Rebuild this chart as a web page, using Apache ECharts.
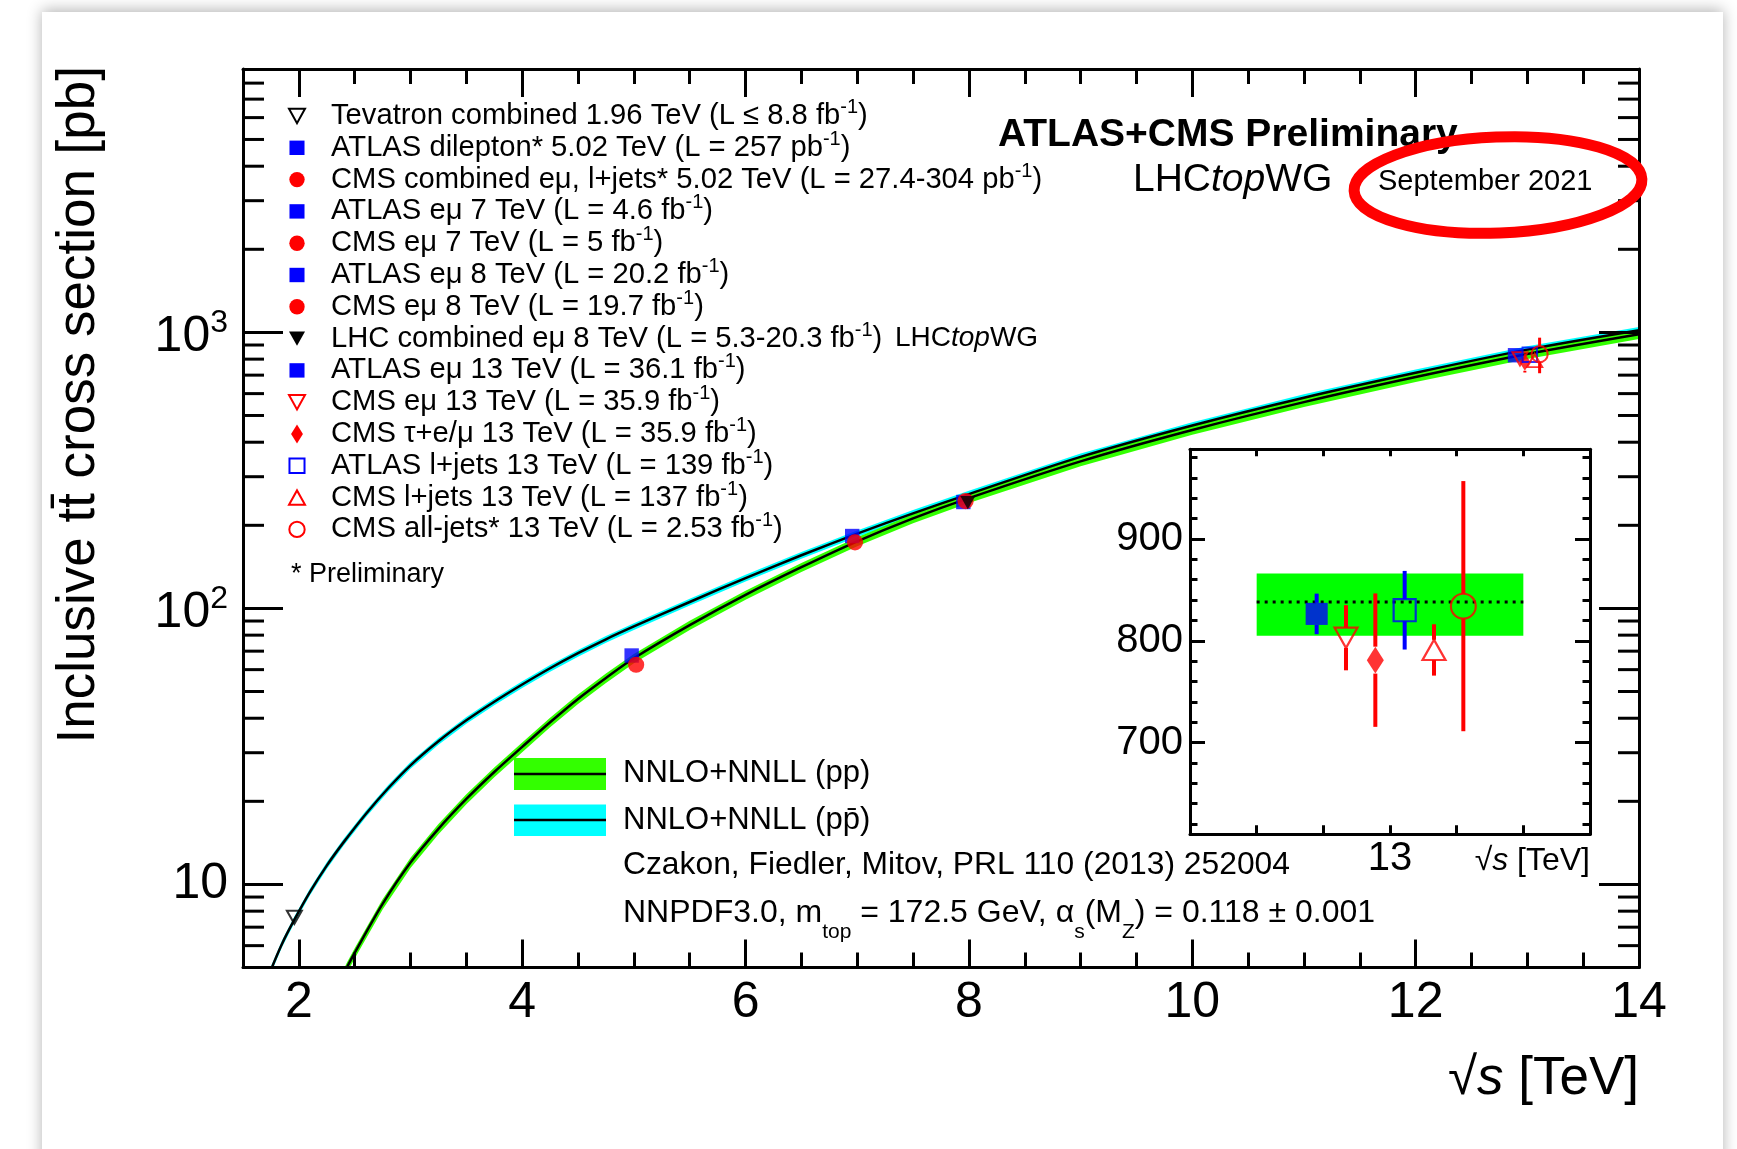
<!DOCTYPE html>
<html>
<head>
<meta charset="utf-8">
<title>Inclusive ttbar cross section vs sqrt(s)</title>
<script src="https://cdn.jsdelivr.net/npm/echarts@6.0.0/dist/echarts.min.js"></script>
<style>
  html, body { margin: 0; padding: 0; background: #ffffff; }
  #chart { width: 1737px; height: 1149px; }
</style>
</head>
<body>
<div id="chart"></div>
<script>
const FONT = '"Liberation Sans", Arial, Helvetica, sans-serif';

// NNLO+NNLL prediction, pp (green band), sqrt(s) in TeV, sigma in pb, uncertainties in %
const ppSqrtS   = [2.38, 2.43, 2.5, 2.75, 3, 3.25, 3.5, 3.75, 4, 4.25, 4.5, 4.75, 5, 5.5, 6, 6.5, 7, 7.5, 8, 9, 10, 11, 12, 13, 14];
const ppXsec    = [4.55, 5.0, 5.65, 8.5, 12.0, 15.9, 20.4, 25.55, 31.5, 38.7, 47.0, 56.0, 66.0, 87, 112, 141, 175, 212, 251, 341, 443, 559, 689, 835, 985];
const ppUncUp   = [4.0, 4.0, 4.0, 4.0, 4.0, 4.0, 4.0, 3.9, 3.8, 3.8, 3.8, 3.7, 3.6, 3.6, 3.5, 3.5, 3.5, 3.4, 3.4, 3.4, 3.4, 3.4, 3.4, 3.4, 3.4];
const ppUncDown = [4.6, 4.6, 4.6, 4.5, 4.5, 4.4, 4.4, 4.3, 4.3, 4.2, 4.2, 4.1, 4.1, 4.0, 4.0, 4.0, 4.0, 4.0, 4.0, 4.0, 4.0, 4.0, 4.0, 4.0, 4.0];

// NNLO+NNLL prediction, p-pbar (cyan band)
const ppbarSqrtS = [1.7, 1.75, 1.85, 1.96, 2.1, 2.25, 2.4, 2.6, 2.8, 3, 3.25, 3.5, 3.75, 4, 4.25, 4.5, 4.75, 5, 5.5, 6, 6.5, 7, 7.5, 8, 9, 10, 11, 12, 13, 14];
const ppbarXsec  = [4.3, 4.9, 6.1, 7.45, 9.4, 11.7, 14.2, 18.0, 22.3, 27.0, 33.0, 39.3, 45.9, 53.0, 60.7, 68.8, 77.3, 86.0, 105.5, 128.8, 155.8, 186.5, 221, 259.5, 354, 460, 580, 714, 866, 1018];
const ppbarUnc   = [2.8, 2.8, 2.8, 2.8, 2.8, 2.8, 2.8, 2.8, 2.8, 2.8, 2.8, 2.8, 2.8, 2.8, 2.8, 2.8, 2.8, 2.8, 2.8, 2.8, 2.8, 2.8, 2.8, 2.8, 2.8, 2.8, 2.8, 2.8, 2.8, 2.8];

// measurements
const measLabels = [
  'Tevatron combined 1.96 TeV (L ≤ 8.8 fb{s|-1})',
  'ATLAS dilepton* 5.02 TeV (L = 257 pb{s|-1})',
  'CMS combined eμ, l+jets* 5.02 TeV (L = 27.4-304 pb{s|-1})',
  'ATLAS eμ 7 TeV (L = 4.6 fb{s|-1})',
  'CMS eμ 7 TeV (L = 5 fb{s|-1})',
  'ATLAS eμ 8 TeV (L = 20.2 fb{s|-1})',
  'CMS eμ 8 TeV (L = 19.7 fb{s|-1})',
  'LHC combined eμ 8 TeV (L = 5.3-20.3 fb{s|-1})',
  'ATLAS eμ 13 TeV (L = 36.1 fb{s|-1})',
  'CMS eμ 13 TeV (L = 35.9 fb{s|-1})',
  'CMS τ+e/μ 13 TeV (L = 35.9 fb{s|-1})',
  'ATLAS l+jets 13 TeV (L = 139 fb{s|-1})',
  'CMS l+jets 13 TeV (L = 137 fb{s|-1})',
  'CMS all-jets* 13 TeV (L = 2.53 fb{s|-1})'
];
const measSqrtS = [1.96, 4.98, 5.02, 6.955, 6.98, 7.95, 7.97, 7.99, 12.89, 12.934, 12.978, 13.022, 13.066, 13.11];
const measXsec  = [7.60, 67.5, 62.5, 182.9, 173.6, 242.9, 244.9, 241.5, 826.4, 803, 781, 830, 791, 834];
const measErr   = [0.41, 2.1, 4.1, 7.1, 6.4, 7.6, 9.0, 8.5, 19.9, 32, 65.5, 38.6, 25.2, 122.8];

// inset (13 TeV zoom)
const insetIdx = [8, 9, 10, 11, 12, 13];
const insetBandSqrtS = [12.8, 13.2];
const insetBandXsec = [805, 866];
const insetCentral = 838;

// tick values
const xMajorTicks = [2, 4, 6, 8, 10, 12, 14];
const logMajorTicks = [10, 100, 1000];
const logMinorTicks = [6, 7, 8, 9, 20, 30, 40, 50, 60, 70, 80, 90, 200, 300, 400, 500, 600, 700, 800, 900,
  2000, 3000, 4000, 5000, 6000, 7000, 8000];
const insetXTicks = [12.8, 12.9, 13, 13.1, 13.2];
const insetYMajor = [700, 800, 900];
const insetYMinor = [620, 640, 660, 680, 720, 740, 760, 780, 820, 840, 860, 880, 920, 940, 960, 980];

// marker styles, one per measurement
const BLUE = '#0000ff', RED = '#ff0000', BLACK = '#000000';
const GREEN = '#33ff00', CYAN = '#00ffff';
const measStyle = [
  { shape: 'triDown', color: BLACK, open: true },
  { shape: 'square', color: BLUE },
  { shape: 'circle', color: RED },
  { shape: 'square', color: BLUE },
  { shape: 'circle', color: RED },
  { shape: 'square', color: BLUE },
  { shape: 'circle', color: RED },
  { shape: 'triDown', color: BLACK },
  { shape: 'square', color: BLUE },
  { shape: 'triDown', color: RED, open: true },
  { shape: 'diamond', color: RED },
  { shape: 'square', color: BLUE, open: true },
  { shape: 'triUp', color: RED, open: true },
  { shape: 'circle', color: RED, open: true }
];

const SYMBOL = {
  square: 'rect', circle: 'circle', triUp: 'triangle', diamond: 'diamond',
  triDown: 'path://M0,0L20,0L10,17.3Z'
};
function symSize(shape, s) {
  if (shape === 'diamond') return [s * 0.74, s * 1.17];
  if (shape === 'triUp' || shape === 'triDown') return [s, s * 0.88];
  if (shape === 'circle') return [s * 1.08, s * 1.08];
  return [s * 0.96, s * 0.96];
}

const XMIN = 1.5, XMAX = 14, YMIN = 5, YMAX = 9000;

function errorBars(s, lineWidth) {
  return function (params, api) {
    const i = api.value(4);
    const st = measStyle[i];
    const gap = symSize(st.shape, s)[1] / 2;
    const c = api.coord([api.value(0), api.value(1)]);
    const lo = api.coord([api.value(0), api.value(2)]);
    const hi = api.coord([api.value(0), api.value(3)]);
    const children = [];
    const ls = { stroke: st.color, lineWidth: lineWidth };
    if (hi[1] < c[1] - gap) children.push({ type: 'line', shape: { x1: c[0], y1: hi[1], x2: c[0], y2: c[1] - gap }, style: ls });
    if (lo[1] > c[1] + gap) children.push({ type: 'line', shape: { x1: c[0], y1: c[1] + gap, x2: c[0], y2: lo[1] }, style: ls });
    return { type: 'group', children: children };
  };
}

function markerSeries(i, s, xi, yi, bw) {
  const st = measStyle[i];
  return {
    type: 'scatter', name: measLabels[i].replace(/\{s\|(.*?)\}/g, '$1'),
    xAxisIndex: xi, yAxisIndex: yi, silent: true, z: 6,
    data: [[measSqrtS[i], measXsec[i]]],
    symbol: SYMBOL[st.shape], symbolSize: symSize(st.shape, s),
    itemStyle: st.open ? { color: 'transparent', borderColor: st.color, borderWidth: bw } : { color: st.color, borderWidth: 0 }
  };
}

function legendMarker(st, cx, cy, s) {
  const style = st.open ? { fill: 'none', stroke: st.color, lineWidth: 2 } : { fill: st.color };
  const h = s * 0.9;
  if (st.shape === 'square') return { type: 'rect', z: 50, shape: { x: cx - s * 0.47, y: cy - s * 0.45, width: s * 0.94, height: s * 0.9 }, style: style };
  if (st.shape === 'circle') return { type: 'circle', z: 50, shape: { cx: cx, cy: cy, r: s * 0.48 }, style: style };
  if (st.shape === 'triDown') return { type: 'polygon', z: 50, shape: { points: [[cx - s / 2, cy - h / 2], [cx + s / 2, cy - h / 2], [cx, cy + h / 2]] }, style: style };
  if (st.shape === 'triUp') return { type: 'polygon', z: 50, shape: { points: [[cx - s / 2, cy + h / 2], [cx + s / 2, cy + h / 2], [cx, cy - h / 2]] }, style: style };
  return { type: 'polygon', z: 50, shape: { points: [[cx, cy - s * 0.6], [cx + s * 0.37, cy], [cx, cy + s * 0.6], [cx - s * 0.37, cy]] }, style: style };
}

function text(x, y, str, size, opt) {
  opt = opt || {};
  const style = {
    text: str, fontSize: size, fontFamily: FONT, fontWeight: opt.weight || 'normal', fill: '#000',
    align: opt.align || 'left', verticalAlign: 'middle',
    textAlign: opt.align || 'left', textVerticalAlign: 'middle'
  };
  if (opt.lineHeight) style.lineHeight = opt.lineHeight;
  if (opt.rich) style.rich = opt.rich;
  return { type: 'text', x: x, y: y, z: 50, silent: true, rotation: opt.rotation || 0, style: style };
}

const supRich = {
  s: { fontSize: 20, fontFamily: FONT, fill: '#000', lineHeight: 14, verticalAlign: 'top' }
};
const wgRich = function (size) {
  return {
    n: { fontSize: size, fontFamily: FONT, fill: '#000' },
    i: { fontSize: size, fontFamily: FONT, fontStyle: 'italic', fill: '#000' }
  };
};

// ---- graphic: legend, annotations, titles ----
const graphic = [];
graphic.push({
  type: 'rect', z: -100, silent: true,
  shape: { x: 42, y: 12, width: 1681, height: 1200 },
  style: { fill: '#ffffff', shadowBlur: 14, shadowColor: 'rgba(0,0,0,0.30)', shadowOffsetY: -2 }
});
measLabels.forEach(function (lab, i) {
  const y = 116 + 31.8 * i;
  graphic.push(legendMarker(measStyle[i], 297, y, 16));
  graphic.push(text(331, y, lab, 29.2, { lineHeight: 37, rich: supRich }));
});
graphic.push(text(895, 116 + 31.8 * 7, '{n|LHC}{i|top}{n|WG}', 28, { rich: wgRich(28) }));
graphic.push(text(291, 575, '* Preliminary', 27));

graphic.push(text(998, 135, 'ATLAS+CMS Preliminary', 39, { weight: 'bold' }));
graphic.push(text(1133, 180, '{n|LHC}{i|top}{n|WG}', 39, { rich: wgRich(39) }));
graphic.push(text(1378, 182, 'September 2021', 29));
graphic.push({
  type: 'ellipse', z: 100, silent: true, x: 1498, y: 185, rotation: 0.04,
  shape: { cx: 0, cy: 0, rx: 144, ry: 48 },
  style: { fill: 'none', stroke: RED, lineWidth: 11 }
});

// theory legend
graphic.push({ type: 'rect', z: 50, silent: true, shape: { x: 514, y: 758, width: 92, height: 32 }, style: { fill: GREEN } });
graphic.push({ type: 'line', z: 51, silent: true, shape: { x1: 514, y1: 774, x2: 606, y2: 774 }, style: { stroke: '#000', lineWidth: 2.5 } });
graphic.push({ type: 'rect', z: 50, silent: true, shape: { x: 514, y: 804.5, width: 92, height: 31.5 }, style: { fill: CYAN } });
graphic.push({ type: 'line', z: 51, silent: true, shape: { x1: 514, y1: 820, x2: 606, y2: 820 }, style: { stroke: '#000', lineWidth: 2.5 } });
graphic.push(text(623, 773, 'NNLO+NNLL (pp)', 31));
graphic.push(text(623, 820, 'NNLO+NNLL (pp\u0304)', 31));
graphic.push(text(623, 865, 'Czakon, Fiedler, Mitov, PRL 110 (2013) 252004', 31.8));
graphic.push(text(623, 913, 'NNPDF3.0, m{b|top} = 172.5 GeV, α{b|s}(M{b|Z}) = 0.118 ± 0.001', 32, {
  lineHeight: 60,
  rich: { b: { fontSize: 21, fontFamily: FONT, fill: '#000', lineHeight: 22, verticalAlign: 'bottom' } }
}));

// axis titles
graphic.push(text(79, 66, 'Inclusive tt\u0304 cross section [pb]', 53, { align: 'right', rotation: Math.PI / 2 }));
graphic.push(text(1639, 1079, '√{i|s} [TeV]', 53, { align: 'right', rich: { i: { fontSize: 53, fontFamily: FONT, fontStyle: 'italic', fill: '#000' } } }));
graphic.push(text(1590, 861, '√{i|s} [TeV]', 32, { align: 'right', rich: { i: { fontSize: 32, fontFamily: FONT, fontStyle: 'italic', fill: '#000' } } }));

// ---- axes ----
const AX = { color: '#000', width: 3 };
function hiddenAxis(gi) {
  return { gridIndex: gi, type: 'value', show: false, min: 0, max: 1 };
}
function fmtPow(v) {
  const e = Math.round(Math.log10(v));
  if (Math.abs(Math.log10(v) - e) > 1e-6) return '';
  return e === 1 ? '10' : '{m|10}{s|' + e + '}';
}

const xAxis = [
  { gridIndex: 0, type: 'value', position: 'bottom', min: XMIN, max: XMAX, z: 10,
    axisLine: { show: true, onZero: false, lineStyle: AX }, splitLine: { show: false },
    axisTick: { show: true, inside: true, length: 28, customValues: xMajorTicks, lineStyle: AX },
    axisLabel: { show: true, customValues: xMajorTicks, fontSize: 50, fontFamily: FONT, color: '#000', margin: 11 } },
  { gridIndex: 0, type: 'value', position: 'top', min: XMIN, max: XMAX, z: 10,
    axisLine: { show: true, onZero: false, lineStyle: AX }, splitLine: { show: false },
    axisTick: { show: true, inside: true, length: 28, customValues: xMajorTicks, lineStyle: AX },
    axisLabel: { show: false } },
  { gridIndex: 1, type: 'value', position: 'bottom', min: XMIN, max: XMAX, interval: 0.5, z: 10,
    axisLine: { show: false }, splitLine: { show: false }, axisLabel: { show: false },
    axisTick: { show: true, inside: true, length: 15, lineStyle: AX } },
  { gridIndex: 1, type: 'value', position: 'top', min: XMIN, max: XMAX, interval: 0.5, z: 10,
    axisLine: { show: false }, splitLine: { show: false }, axisLabel: { show: false },
    axisTick: { show: true, inside: true, length: 15, lineStyle: AX } },
  { gridIndex: 2, type: 'value', position: 'bottom', min: 12.7, max: 13.3, z: 10,
    axisLine: { show: true, onZero: false, lineStyle: AX }, splitLine: { show: false },
    axisTick: { show: true, inside: true, length: 9, customValues: insetXTicks, lineStyle: AX },
    axisLabel: { show: true, customValues: [13], fontSize: 40, fontFamily: FONT, color: '#000', margin: 5 } },
  { gridIndex: 2, type: 'value', position: 'top', min: 12.7, max: 13.3, z: 10,
    axisLine: { show: true, onZero: false, lineStyle: AX }, splitLine: { show: false },
    axisTick: { show: true, inside: true, length: 7, customValues: insetXTicks, lineStyle: AX },
    axisLabel: { show: false } },
  hiddenAxis(3)
];

const yAxis = [
  { gridIndex: 0, type: 'log', position: 'left', min: YMIN, max: YMAX, z: 10,
    axisLine: { show: true, onZero: false, lineStyle: AX }, splitLine: { show: false },
    axisTick: { show: false }, minorTick: { show: false },
    axisLabel: { show: true, formatter: fmtPow, fontSize: 50, fontFamily: FONT, color: '#000', margin: 15, lineHeight: 50,
      rich: {
        m: { fontSize: 50, fontFamily: FONT, color: '#000', lineHeight: 50, padding: [10, 0, 0, 0] },
        s: { fontSize: 32, fontFamily: FONT, color: '#000', lineHeight: 40, verticalAlign: 'top' }
      } } },
  { gridIndex: 0, type: 'log', position: 'right', min: YMIN, max: YMAX, z: 10,
    axisLine: { show: true, onZero: false, lineStyle: AX }, splitLine: { show: false },
    axisTick: { show: false }, axisLabel: { show: false } },
  hiddenAxis(1),
  { gridIndex: 2, type: 'value', position: 'left', min: 610, max: 988, z: 10,
    axisLine: { show: true, onZero: false, lineStyle: AX }, splitLine: { show: false },
    axisTick: { show: true, inside: true, length: 15, customValues: insetYMajor, lineStyle: AX },
    axisLabel: { show: true, customValues: insetYMajor, fontSize: 40, fontFamily: FONT, color: '#000', margin: 7 } },
  { gridIndex: 2, type: 'value', position: 'right', min: 610, max: 988, z: 10,
    axisLine: { show: true, onZero: false, lineStyle: AX }, splitLine: { show: false },
    axisTick: { show: true, inside: true, length: 15, customValues: insetYMajor, lineStyle: AX },
    axisLabel: { show: false } },
  { gridIndex: 3, type: 'value', position: 'left', min: 610, max: 988, z: 10,
    axisLine: { show: false }, splitLine: { show: false }, axisLabel: { show: false },
    axisTick: { show: true, inside: true, length: 7.5, customValues: insetYMinor, lineStyle: AX } },
  { gridIndex: 3, type: 'value', position: 'right', min: 610, max: 988, z: 10,
    axisLine: { show: false }, splitLine: { show: false }, axisLabel: { show: false },
    axisTick: { show: true, inside: true, length: 7.5, customValues: insetYMinor, lineStyle: AX } }
];

const mainRect = { left: 243, top: 69, width: 1396, height: 898.5 };
const insetRect = { left: 1190, top: 449.3, width: 400, height: 385 };
const grid = [
  Object.assign({ show: false, containLabel: false, outerBoundsMode: 'none' }, mainRect),
  Object.assign({ show: false, containLabel: false, outerBoundsMode: 'none' }, mainRect),
  Object.assign({ show: true, backgroundColor: '#ffffff', borderWidth: 0, containLabel: false, outerBoundsMode: 'none' }, insetRect),
  Object.assign({ show: false, containLabel: false, outerBoundsMode: 'none' }, insetRect)
];

// ---- series ----
// clip a polygon (pixel coords) to the plotting rectangle
function clipPolygon(pts, x0, y0, x1, y1) {
  function pass(poly, inside, cross) {
    const out = [];
    for (let k = 0; k < poly.length; k++) {
      const cur = poly[k], prev = poly[(k + poly.length - 1) % poly.length];
      const ci = inside(cur), pi = inside(prev);
      if (ci) { if (!pi) out.push(cross(prev, cur)); out.push(cur); }
      else if (pi) out.push(cross(prev, cur));
    }
    return out;
  }
  const atX = function (x) { return function (a, b) { return [x, a[1] + (b[1] - a[1]) * (x - a[0]) / (b[0] - a[0])]; }; };
  const atY = function (y) { return function (a, b) { return [a[0] + (b[0] - a[0]) * (y - a[1]) / (b[1] - a[1]), y]; }; };
  let p = pts;
  p = pass(p, function (q) { return q[0] >= x0; }, atX(x0));
  p = pass(p, function (q) { return q[0] <= x1; }, atX(x1));
  p = pass(p, function (q) { return q[1] >= y0; }, atY(y0));
  p = pass(p, function (q) { return q[1] <= y1; }, atY(y1));
  return p;
}

function bandSeries(name, xs, ys, up, down, color, z) {
  return {
    type: 'custom', name: name, xAxisIndex: 0, yAxisIndex: 0, silent: true, z: z,
    encode: { x: 0, y: 1 },
    data: xs.map(function (x, i) { return [x, ys[i]]; }),
    renderItem: function (params, api) {
      if (params.dataIndex !== 0) return null;
      const upper = xs.map(function (x, i) { return api.coord([x, ys[i] * (1 + up[i] / 100)]); });
      const lower = xs.map(function (x, i) { return api.coord([x, ys[i] * (1 - down[i] / 100)]); });
      const cs = params.coordSys;
      const pts = clipPolygon(upper.concat(lower.reverse()), cs.x, cs.y, cs.x + cs.width, cs.y + cs.height);
      return { type: 'polygon', shape: { points: pts }, style: { fill: color } };
    }
  };
}
function centralLine(name, xs, ys) {
  return { type: 'line', name: name, xAxisIndex: 0, yAxisIndex: 0, symbol: 'none', smooth: 0.3, silent: true, z: 4,
    data: xs.map(function (x, i) { return [x, ys[i]]; }), lineStyle: { color: '#000', width: 2.5 } };
}

const series = [
  bandSeries('NNLO+NNLL (ppbar) band', ppbarSqrtS, ppbarXsec, ppbarUnc, ppbarUnc, CYAN, 2),
  bandSeries('NNLO+NNLL (pp) band', ppSqrtS, ppXsec, ppUncUp, ppUncDown, GREEN, 3),
  centralLine('NNLO+NNLL (ppbar)', ppbarSqrtS, ppbarXsec),
  centralLine('NNLO+NNLL (pp)', ppSqrtS, ppXsec)
];

// log-axis ticks (left and right edges of the main frame)
series.push({
  type: 'custom', name: 'log ticks', xAxisIndex: 0, yAxisIndex: 0, silent: true, z: 10,
  encode: { x: 0, y: 1 },
  data: logMajorTicks.map(function (v) { return [XMIN, v, 1]; }).concat(logMinorTicks.map(function (v) { return [XMIN, v, 0]; })),
  renderItem: function (params, api) {
    const v = api.value(1);
    const len = api.value(2) === 1 ? 40 : 21;
    const l = api.coord([XMIN, v]), r = api.coord([XMAX, v]);
    const ls = { stroke: '#000', lineWidth: 3 };
    return { type: 'group', children: [
      { type: 'line', shape: { x1: l[0], y1: l[1], x2: l[0] + len, y2: l[1] }, style: ls },
      { type: 'line', shape: { x1: r[0] - len, y1: r[1], x2: r[0], y2: r[1] }, style: ls }
    ] };
  }
});

// main plot: error bars + markers
series.push({
  type: 'custom', name: 'errors', xAxisIndex: 0, yAxisIndex: 0, silent: true, z: 5,
  encode: { x: 0, y: 1 },
  data: measSqrtS.map(function (x, i) { return [x, measXsec[i], measXsec[i] - measErr[i], measXsec[i] + measErr[i], i]; }),
  renderItem: errorBars(15, 3)
});
measSqrtS.forEach(function (x, i) { series.push(markerSeries(i, 15, 0, 0, 2)); });

// inset: theory band, central value, error bars, markers
series.push({
  type: 'custom', name: 'inset band', xAxisIndex: 4, yAxisIndex: 3, silent: true, z: 2,
  encode: { x: [0, 2], y: [1, 3] },
  data: [[insetBandSqrtS[0], insetBandXsec[0], insetBandSqrtS[1], insetBandXsec[1]]],
  renderItem: function (params, api) {
    const a = api.coord([api.value(0), api.value(3)]);
    const b = api.coord([api.value(2), api.value(1)]);
    return { type: 'rect', shape: { x: a[0], y: a[1], width: b[0] - a[0], height: b[1] - a[1] }, style: { fill: '#00ff00' } };
  }
});
series.push({
  type: 'line', name: 'inset central', xAxisIndex: 4, yAxisIndex: 3, symbol: 'none', silent: true, z: 3,
  data: [[insetBandSqrtS[0], insetCentral], [insetBandSqrtS[1], insetCentral]],
  lineStyle: { color: '#000', width: 3, type: [3, 5] }
});
series.push({
  type: 'custom', name: 'inset errors', xAxisIndex: 4, yAxisIndex: 3, silent: true, z: 5,
  encode: { x: 0, y: 1 },
  data: insetIdx.map(function (i) { return [measSqrtS[i], measXsec[i], measXsec[i] - measErr[i], measXsec[i] + measErr[i], i]; }),
  renderItem: errorBars(23, 4)
});
insetIdx.forEach(function (i) { series.push(markerSeries(i, 23, 4, 3, 2.2)); });

const chart = echarts.init(document.getElementById('chart'), null, { renderer: 'canvas' });
chart.setOption({
  animation: false,
  backgroundColor: '#ffffff',
  grid: grid,
  xAxis: xAxis,
  yAxis: yAxis,
  series: series,
  graphic: graphic
});
</script>
</body>
</html>
